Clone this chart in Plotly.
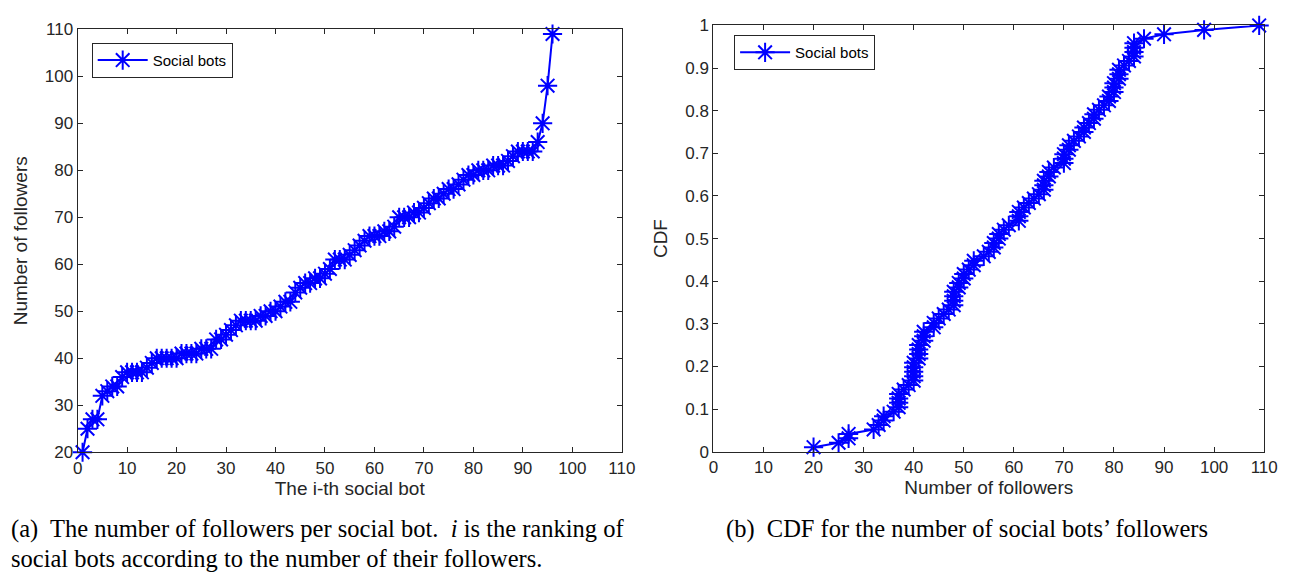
import plotly.graph_objects as go

# Sorted number of followers of the 96 social bots
followers = [20, 25, 27, 27, 32, 33, 34, 34, 36, 37,
             37, 37, 37, 38, 39, 40, 40, 40, 40, 40,
             41, 41, 41, 41, 42, 42, 42, 44, 44, 45,
             46, 47, 48, 48, 48, 48, 49, 49, 50, 50,
             51, 52, 52, 54, 55, 56, 56, 57, 57, 58,
             59, 61, 61, 61, 62, 63, 64, 65, 66, 66,
             66, 67, 67, 68, 70, 70, 70, 71, 71, 72,
             73, 74, 74, 75, 76, 76, 77, 78, 79, 79,
             80, 80, 80, 81, 81, 81, 82, 83, 84, 84,
             84, 84, 86, 90, 98, 109]
rank = list(range(1, len(followers) + 1))
cdf = [r / len(followers) for r in rank]

series_name = "Social bots"
x_ticks = [0, 10, 20, 30, 40, 50, 60, 70, 80, 90, 100, 110]
y_ticks_a = [20, 30, 40, 50, 60, 70, 80, 90, 100, 110]
y_ticks_b = [0, 0.1, 0.2, 0.3, 0.4, 0.5, 0.6, 0.7, 0.8, 0.9, 1]
y_ticktext_b = ["0", "0.1", "0.2", "0.3", "0.4", "0.5", "0.6", "0.7", "0.8", "0.9", "1"]

W, H = 1290, 578
BLUE = "#0000FF"
AX = "#262626"
SANS = "Liberation Sans, Arial, sans-serif"
SERIF = "Liberation Serif, Times New Roman, serif"

marker = dict(symbol="asterisk-open", size=16, color=BLUE,
              line=dict(color=BLUE, width=2))

fig = go.Figure()
fig.add_trace(go.Scatter(x=rank, y=followers, mode="lines+markers",
                         name=series_name, line=dict(color=BLUE, width=2),
                         marker=marker, cliponaxis=False,
                         xaxis="x", yaxis="y", legend="legend"))
fig.add_trace(go.Scatter(x=followers, y=cdf, mode="lines+markers",
                         name=series_name, line=dict(color=BLUE, width=2),
                         marker=marker, cliponaxis=False,
                         xaxis="x2", yaxis="y2", legend="legend2"))

axis_common = dict(showgrid=False, zeroline=False, showline=True, linecolor=AX,
                   linewidth=1, mirror="ticks", ticks="inside", ticklen=5,
                   tickcolor=AX, tickwidth=1,
                   tickfont=dict(family=SANS, size=17, color=AX))
title_font = dict(family=SANS, size=19, color=AX)

fig.update_layout(
    width=W, height=H, autosize=False,
    margin=dict(l=0, r=0, t=0, b=0),
    paper_bgcolor="white", plot_bgcolor="white",
    xaxis=dict(domain=[73.7 / W, 626 / W], range=[0, 110], tickvals=x_ticks,
               anchor="y",
               title=dict(text="The i-th social bot", font=title_font, standoff=4),
               **axis_common),
    yaxis=dict(domain=[1 - 458.3 / H, 1 - 21 / H], range=[20, 110],
               tickvals=y_ticks_a, anchor="x",
               title=dict(text="Number of followers", font=title_font, standoff=12),
               **axis_common),
    xaxis2=dict(domain=[719 / W, 1278 / W], range=[0, 110], tickvals=x_ticks,
                anchor="y2",
                title=dict(text="Number of followers", font=title_font, standoff=4),
                **axis_common),
    yaxis2=dict(domain=[1 - 457.7 / H, 1 - 17 / H], range=[0, 1],
                tickvals=y_ticks_b, ticktext=y_ticktext_b, anchor="x2",
                title=dict(text="CDF", font=title_font, standoff=12),
                **axis_common),
    legend=dict(x=88 / W, y=1 - 35 / H, xanchor="left", yanchor="top",
                bgcolor="white", bordercolor=AX, borderwidth=1,
                font=dict(family=SANS, size=15, color="black"), itemwidth=50),
    legend2=dict(x=740 / W, y=1 - 27 / H, xanchor="left", yanchor="top",
                 bgcolor="white", bordercolor=AX, borderwidth=1,
                 font=dict(family=SANS, size=15, color="black"), itemwidth=50),
    showlegend=True,
)

cap_font = dict(family=SERIF, size=24.5, color="black")
fig.add_annotation(text="(a)\u00a0 The number of followers per social bot.\u00a0 <i>i</i> is the ranking of",
                   xref="paper", yref="paper", x=4 / W, y=1 - 538 / H,
                   xanchor="left", yanchor="middle", showarrow=False, font=cap_font)
fig.add_annotation(text="social bots according to the number of their followers.",
                   xref="paper", yref="paper", x=4 / W, y=1 - 568 / H,
                   xanchor="left", yanchor="middle", showarrow=False, font=cap_font)
fig.add_annotation(text="(b)\u00a0 CDF for the number of social bots\u2019 followers",
                   xref="paper", yref="paper", x=730 / W, y=1 - 538 / H,
                   xanchor="left", yanchor="middle", showarrow=False, font=cap_font)

fig.write_html("out.html", config={"displayModeBar": False},
               post_script="document.body.style.margin='0';document.body.style.overflow='hidden';")
